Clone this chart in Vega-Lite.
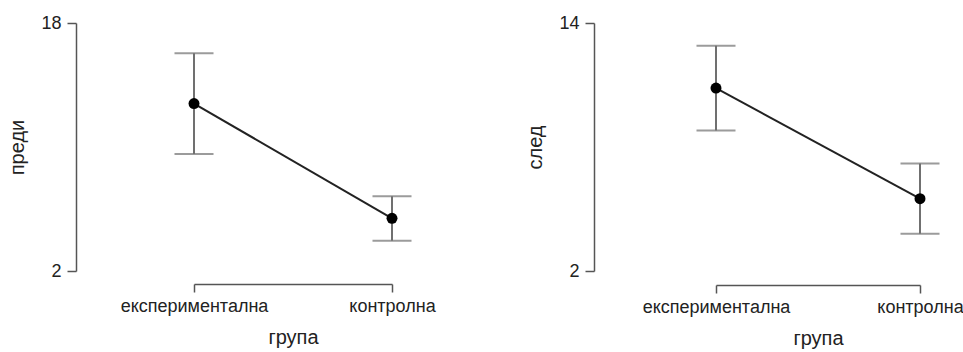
{
  "$schema": "https://vega.github.io/schema/vega-lite/v6.json",
  "background": "white",
  "padding": {"left": 7, "top": 14, "right": 0, "bottom": 5},
  "spacing": 89,
  "config": {
    "view": {"stroke": null},
    "font": "Liberation Sans",
    "axis": {
      "grid": false,
      "domainColor": "#555555",
      "domainWidth": 1.5,
      "tickColor": "#555555",
      "tickWidth": 1.5,
      "labelColor": "#222222",
      "titleColor": "#222222",
      "labelFont": "Liberation Sans",
      "titleFont": "Liberation Sans",
      "titleFontWeight": "normal"
    }
  },
  "hconcat": [
    {
      "width": 198,
      "height": 248,
      "data": {"values": [
        {"група": "експериментална", "mean": 12.8, "lo": 9.55, "hi": 16.05},
        {"група": "контролна", "mean": 5.4, "lo": 3.95, "hi": 6.83}
      ]},
      "encoding": {
        "x": {"field": "група", "type": "nominal", "sort": null,
          "scale": {"type": "point", "padding": 0},
          "axis": {"title": "група", "labelAngle": 0, "offset": 13, "tickSize": 8, "labelPadding": 5, "labelFontSize": 18, "titleFontSize": 20, "titlePadding": 12}}
      },
      "layer": [
        {"mark": {"type": "rule", "color": "#707070", "strokeWidth": 2},
         "encoding": {"y": {"field": "lo", "type": "quantitative", "scale": {"domain": [2, 18], "nice": false, "zero": false},
            "axis": {"title": "преди", "values": [2, 18], "offset": 118, "tickSize": 9, "labelPadding": 6, "labelFontSize": 18, "titleFontSize": 20, "titlePadding": 13}},
           "y2": {"field": "hi"}}},
        {"mark": {"type": "tick", "color": "#707070", "size": 39, "thickness": 2}, "encoding": {"y": {"field": "lo", "type": "quantitative"}}},
        {"mark": {"type": "tick", "color": "#707070", "size": 39, "thickness": 2}, "encoding": {"y": {"field": "hi", "type": "quantitative"}}},
        {"mark": {"type": "line", "color": "#222222", "strokeWidth": 2}, "encoding": {"y": {"field": "mean", "type": "quantitative"}}},
        {"mark": {"type": "circle", "color": "#000000", "size": 120, "opacity": 1}, "encoding": {"y": {"field": "mean", "type": "quantitative"}}}
      ]
    },
    {
      "width": 204,
      "height": 248,
      "data": {"values": [
        {"група": "експериментална", "mean": 10.85, "lo": 8.8, "hi": 12.9},
        {"група": "контролна", "mean": 5.5, "lo": 3.8, "hi": 7.2}
      ]},
      "encoding": {
        "x": {"field": "група", "type": "nominal", "sort": null,
          "scale": {"type": "point", "padding": 0},
          "axis": {"title": "група", "labelAngle": 0, "offset": 14, "tickSize": 8, "labelPadding": 5, "labelFontSize": 18, "titleFontSize": 20, "titlePadding": 12}}
      },
      "layer": [
        {"mark": {"type": "rule", "color": "#707070", "strokeWidth": 2},
         "encoding": {"y": {"field": "lo", "type": "quantitative", "scale": {"domain": [2, 14], "nice": false, "zero": false},
            "axis": {"title": "след", "values": [2, 14], "offset": 122, "tickSize": 9, "labelPadding": 6, "labelFontSize": 18, "titleFontSize": 20, "titlePadding": 13}},
           "y2": {"field": "hi"}}},
        {"mark": {"type": "tick", "color": "#707070", "size": 39, "thickness": 2}, "encoding": {"y": {"field": "lo", "type": "quantitative"}}},
        {"mark": {"type": "tick", "color": "#707070", "size": 39, "thickness": 2}, "encoding": {"y": {"field": "hi", "type": "quantitative"}}},
        {"mark": {"type": "line", "color": "#222222", "strokeWidth": 2}, "encoding": {"y": {"field": "mean", "type": "quantitative"}}},
        {"mark": {"type": "circle", "color": "#000000", "size": 120, "opacity": 1}, "encoding": {"y": {"field": "mean", "type": "quantitative"}}}
      ]
    }
  ]
}
